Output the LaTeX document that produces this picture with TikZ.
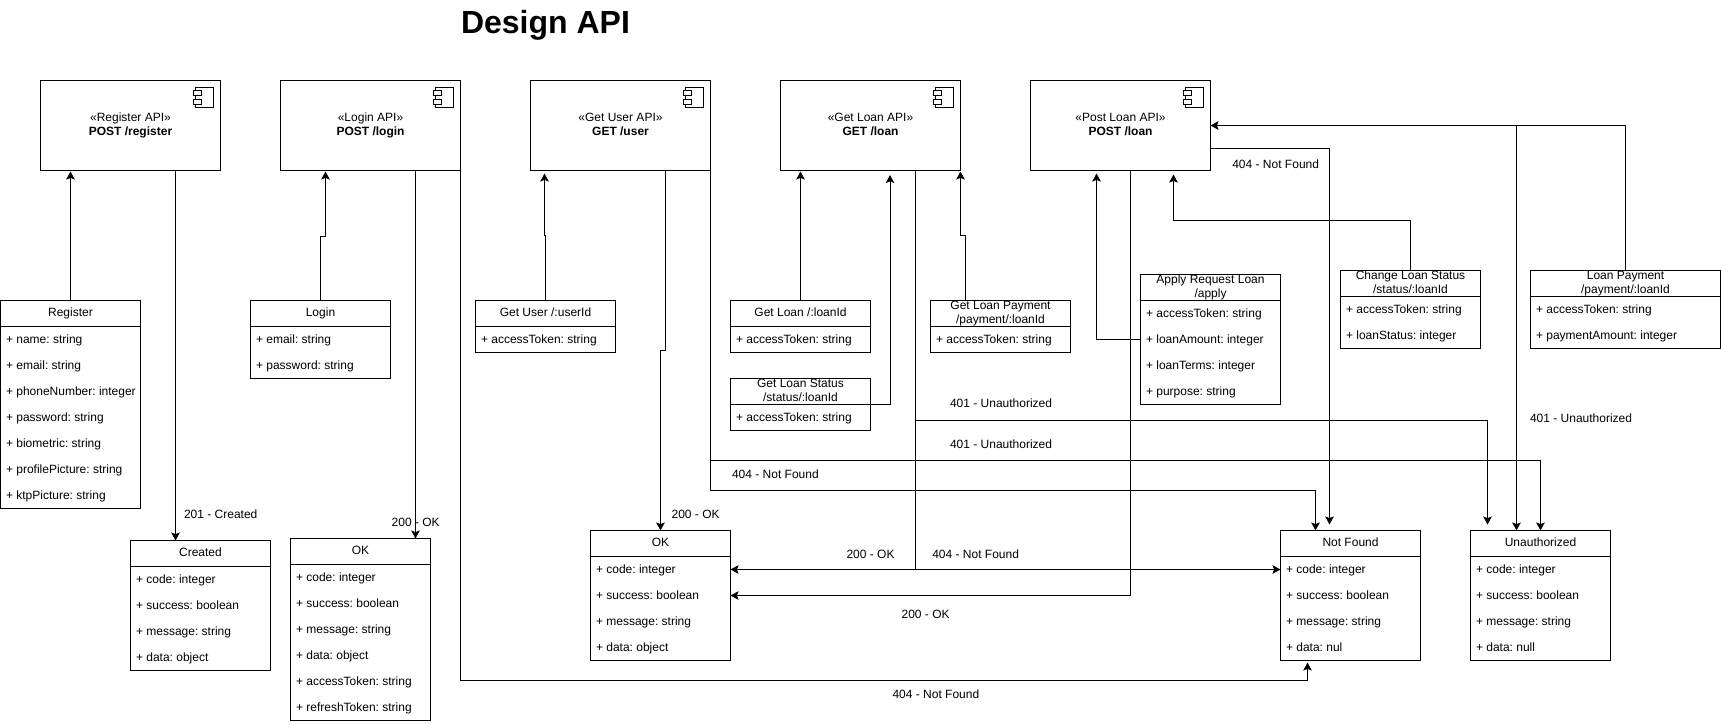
\documentclass[tikz,border=0pt]{standalone}
\usepackage{fontspec}
\setmainfont{Liberation Sans}
\usetikzlibrary{arrows.meta,calc}
\AtBeginDocument{\frenchspacing}
\tikzset{
  base text/.style={inner sep=0pt,outer sep=0pt,font=\fontsize{12}{14}\selectfont},
  boxframe/.style={draw=black,line width=1pt,rectangle,inner sep=0pt,outer sep=0pt,anchor=north west},
  apibox/.style={boxframe,minimum width=180pt,minimum height=90pt,align=center,font=\fontsize{12}{14}\selectfont},
  hdrtext/.style={base text,anchor=center,align=center},
  rowtext/.style={base text,anchor=base west},
  labeltext/.style={base text,anchor=base west},
  divider/.style={line width=1pt},
  iconline/.style={line width=1pt,fill=white},
  conn/.style={line width=1pt,-{Stealth[length=8pt,width=8.5pt,inset=1.6pt]}},
}
\newcommand{\umlapi}[4]{%
  \node[apibox] (#1) at (#2,80.5) {\strut\guillemotleft #3\guillemotright\\\strut\textbf{#4}};
  \begin{scope}[shift={(#1.north east)}]
    \draw[iconline] (-25,7) rectangle (-7,27);
    \draw[iconline] (-27,9.7) rectangle (-19,15.3);
    \draw[iconline] (-27,18.7) rectangle (-19,24.3);
  \end{scope}
}
\newcommand{\umltable}[7]{%
  \pgfmathsetmacro{\tabh}{26+26*#5}
  \node[boxframe,minimum width=#4pt,minimum height=\tabh pt] (#1) at (#2,#3) {};
  \draw[divider] ([shift={(0,26)}]#1.north west) -- ([shift={(0,26)}]#1.north east);
  \node[hdrtext] (#1-h) at ([shift={(0,13)}]#1.north) {#6};
  \foreach \r [count=\i] in {#7} {
    \pgfmathsetmacro{\rowy}{17+26*\i}
    \node[rowtext] (#1-r\i) at ([shift={(5.5,\rowy)}]#1.north west) {+ \r};
  }
}
\begin{document}
\begin{tikzpicture}[x=1pt,y=-1pt]
\useasboundingbox (0,0) rectangle (1721,724);
\fill[white] (0,0) rectangle (1721,724);

\node[inner sep=0pt,outer sep=0pt,anchor=base west,font=\fontsize{32}{38}\selectfont\bfseries] (title) at (461,33) {Design API};

\umlapi{apiRegister}{40.5}{Register API}{POST /register}
\umlapi{apiLogin}{280.5}{Login API}{POST /login}
\umlapi{apiUser}{530.5}{Get User API}{GET /user}
\umlapi{apiLoan}{780.5}{Get Loan API}{GET /loan}
\umlapi{apiPost}{1030.5}{Post Loan API}{POST /loan}

\umltable{register}{0.5}{300.5}{140}{7}{\strut Register}{name: string,email: string,phoneNumber: integer,password: string,biometric: string,profilePicture: string,ktpPicture: string}
\umltable{created}{130.5}{540.5}{140}{4}{\strut Created}{code: integer,success: boolean,message: string,data: object}
\umltable{login}{250.5}{300.5}{140}{2}{\strut Login}{email: string,password: string}
\umltable{okLogin}{290.5}{538.5}{140}{6}{\strut OK}{code: integer,success: boolean,message: string,data: object,accessToken: string,refreshToken: string}
\umltable{getUser}{475.5}{300.5}{140}{1}{\strut Get User /:userId}{accessToken: string}
\umltable{okUser}{590.5}{530.5}{140}{4}{\strut OK}{code: integer,success: boolean,message: string,data: object}
\umltable{getLoan}{730.5}{300.5}{140}{1}{\strut Get Loan /:loanId}{accessToken: string}
\umltable{loanStatus}{730.5}{378.5}{140}{1}{\strut Get Loan Status\\\strut /status/:loanId}{accessToken: string}
\umltable{getPayment}{930.5}{300.5}{140}{1}{\strut Get Loan Payment\\\strut /payment/:loanId}{accessToken: string}
\umltable{applyLoan}{1140.5}{274.5}{140}{4}{\strut Apply Request Loan\\\strut /apply}{accessToken: string,loanAmount: integer,loanTerms: integer,purpose: string}
\umltable{changeStatus}{1340.5}{270.5}{140}{2}{\strut Change Loan Status\\\strut /status/:loanId}{accessToken: string,loanStatus: integer}
\umltable{loanPay}{1530.5}{270.5}{190}{2}{\strut Loan Payment\\\strut /payment/:loanId}{accessToken: string,paymentAmount: integer}
\umltable{notFound}{1280.5}{530.5}{140}{4}{\strut Not Found}{code: integer,success: boolean,message: string,data: nul}
\umltable{unauth}{1470.5}{530.5}{140}{4}{\strut Unauthorized}{code: integer,success: boolean,message: string,data: null}

% connectors
\draw[conn] (register.north) -- ([shift={(30,1)}]apiRegister.south west);
\draw[conn] ([shift={(135,0)}]apiRegister.south west) -- ([shift={(45,0)}]created.north west);
\draw[conn] (login.north) -- ++(0,-64.5) -- ++(5,0) -- ([shift={(45,1)}]apiLogin.south west);
\draw[conn] ([shift={(135,0)}]apiLogin.south west) -- ([shift={(125,0)}]okLogin.north west);
\draw[conn] (apiLogin.south east) -- ++(0,510) -| ([shift={(27,2)}]notFound.south west);

\draw[conn] (getUser.north) -- ++(0,-65) -- ++(-1,0) -- ([shift={(14,3)}]apiUser.south west);
\draw[conn] ([shift={(135,0)}]apiUser.south west) -- ++(0,180) -- ++(-5,0) -- (okUser.north);
\draw[conn] (apiUser.south east) -- ++(0,290) -| (unauth.north);
\draw[conn] (apiUser.south east) -- ++(0,320) -| ([shift={(35,0)}]notFound.north west);

\draw[conn] (getLoan.north) -- ([shift={(20,1)}]apiLoan.south west);
\draw[conn] ([shift={(0,26)}]loanStatus.north east) -| ([shift={(109.5,4.5)}]apiLoan.south west);
\draw[conn] ([shift={(35,0)}]getPayment.north west) -- ++(0,-65) -- ++(-5,0) -- ([shift={(0,1)}]apiLoan.south east);
\draw[conn] ([shift={(135,0)}]apiLoan.south west) |- ([shift={(0,39)}]okUser.north east);
\draw[conn] ([shift={(135,0)}]apiLoan.south west) |- ([shift={(0,39)}]notFound.north west);
\draw[conn] ([shift={(135,0)}]apiLoan.south west) -- ++(0,250) -| ([shift={(17,-6)}]unauth.north west);

\draw[conn] ([shift={(100,0)}]apiPost.south west) |- ([shift={(0,65)}]okUser.north east);
\draw[conn] ([shift={(0,67.5)}]apiPost.north east) -| ([shift={(49,-6)}]notFound.north west);
\draw[conn] ([shift={(0,65)}]applyLoan.north west) -| ([shift={(66,3)}]apiPost.south west);
\draw[conn] (changeStatus.north) -- ++(0,-50) -| ([shift={(143,4)}]apiPost.south west);
\draw[conn] (loanPay.north) |- (apiPost.east);
\draw[conn] ([shift={(306,0)}]apiPost.east) -- ([shift={(46,0)}]unauth.north west);

% labels
\node[labeltext] (lb1) at (184,518) {201 - Created};
\node[labeltext] (lb2) at (391.7,526) {200 - OK};
\node[labeltext] (lb3) at (671.6,518) {200 - OK};
\node[labeltext] (lb4) at (846.5,558) {200 - OK};
\node[labeltext] (lb5) at (932.3,558) {404 - Not Found};
\node[labeltext] (lb6) at (732,478) {404 - Not Found};
\node[labeltext] (lb7) at (950,448) {401 - Unauthorized};
\node[labeltext] (lb8) at (950,407) {401 - Unauthorized};
\node[labeltext] (lb9) at (901.6,618) {200 - OK};
\node[labeltext] (lb10) at (892.5,698) {404 - Not Found};
\node[labeltext] (lb11) at (1232.3,168) {404 - Not Found};
\node[labeltext] (lb12) at (1530,422) {401 - Unauthorized};
\end{tikzpicture}
\end{document}
